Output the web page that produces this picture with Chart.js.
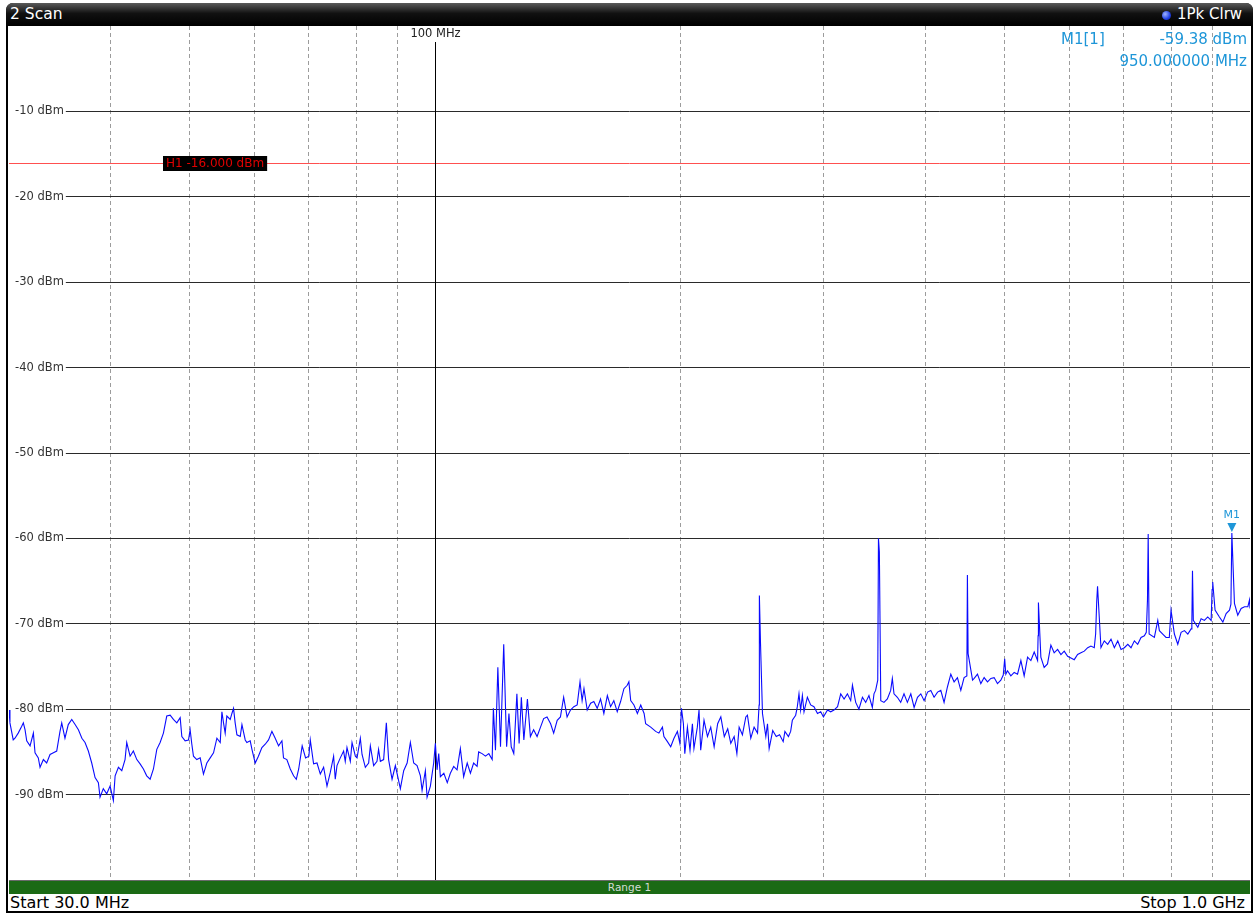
<!DOCTYPE html>
<html><head><meta charset="utf-8">
<script src="https://cdn.jsdelivr.net/npm/chart.js@4.4.1/dist/chart.umd.min.js"></script>
<style>
html,body{margin:0;padding:0;background:#fff;}
body{width:1256px;height:916px;overflow:hidden;position:relative;font-family:'DejaVu Sans',sans-serif;}
.abs{position:absolute;white-space:nowrap;}
#frame{left:6px;top:3px;width:1247px;height:910px;border:2px solid #000;box-sizing:border-box;border-radius:7px 7px 0 0;}
#header{left:6px;top:3px;width:1247px;height:23px;background:linear-gradient(#5a5a5a 0%,#111 45%,#000 100%);border-radius:7px 7px 0 0;}
#title{left:10px;top:5px;color:#fff;font-size:15.5px;line-height:19px;}
#trace{left:1177px;top:5px;color:#fff;font-size:15px;line-height:19px;}
#dot{left:1162px;top:11px;width:9px;height:9px;border-radius:50%;background:radial-gradient(circle at 35% 35%,#9fb4ff,#1f3fe6 60%,#0a1a90);}
#plot{left:9px;top:26px;}
.mk{color:#1e96d8;font-size:15px;line-height:18px;}
#green{left:9px;top:880px;width:1241px;height:14px;background:#1b6a15;border-top:1px solid #6a6a6a;box-sizing:border-box;color:#d4dcd4;font-size:10.5px;line-height:13px;text-align:center;}
.foot{top:894px;font-size:16px;line-height:18px;color:#000;}
</style></head>
<body>
<div id="frame" class="abs"></div>
<div id="header" class="abs"></div>
<div id="title" class="abs">2 Scan</div>
<div id="dot" class="abs"></div>
<div id="trace" class="abs">1Pk Clrw</div>
<canvas id="plot" class="abs" width="1241" height="854"></canvas>
<div class="abs mk" style="left:1061px;top:30px;">M1[1]</div>
<div class="abs mk" style="right:9px;top:30px;">-59.38 dBm</div>
<div class="abs mk" style="right:9px;top:52px;">950.000000 MHz</div>
<div id="green" class="abs">Range 1</div>
<div class="abs foot" style="left:10px;">Start 30.0 MHz</div>
<div class="abs foot" style="right:11px;">Stop 1.0 GHz</div>
<script>
// ---- data ----
const startMHz = 30, stopMHz = 1000;
const refLevelDbm = 0, bottomLevelDbm = -100;
const yTickDbm = [-10,-20,-30,-40,-50,-60,-70,-80,-90];
const xGridMHz = [40,50,60,70,80,90,200,300,400,500,600,700,800,900];
const refFreqMHz = 100;
const h1LevelDbm = -16;
const h1LabelFreqMHz = 46.4;
const markerFreqMHz = 950, markerLevelDbm = -59.38;

const freqMHz = [
30.0,30.08,30.36,30.51,30.79,31.10,31.24,31.39,31.54,31.84,32.14,32.29,32.59,32.75,33.06,33.37,33.69,34.01,34.33,34.65,
34.82,35.14,35.47,35.82,36.16,36.50,36.86,37.19,37.54,37.90,38.26,38.62,38.80,39.16,39.54,39.92,40.29,40.49,40.87,41.26,
41.64,41.84,42.24,42.63,43.05,43.45,43.86,44.27,44.70,45.12,45.55,45.98,46.41,46.85,47.30,47.74,48.20,48.66,48.89,49.35,
49.82,50.05,50.29,50.52,51.00,51.49,51.97,52.47,52.97,53.47,53.98,54.49,
54.75,55.00,55.26,55.52,56.05,56.32,56.58,56.84,57.12,57.66,57.94,58.48,58.75,59.31,59.60,60.15,60.70,61.30,61.88,62.46,
63.06,63.65,64.26,64.87,65.16,65.78,66.42,67.04,67.56,68.02,68.69,69.35,70.00,70.28,70.94,71.63,72.30,72.98,73.68,74.37,
75.07,75.42,75.79,76.50,77.22,77.58,77.96,78.70,79.08,79.83,80.21,80.96,81.35,82.11,82.88,83.28,84.06,84.86,85.24,85.67,
86.47,87.13,87.69,88.55,89.38,90.22,90.65,91.51,92.40,93.25,94.13,95.03,95.93,96.39,97.29,97.76,98.68,
99.60,100.08,100.56,101.03,101.5,102.5,103.5,104.4,105.4,106.4,107.4,108.4,109.5,110.5,111.5,112.6,113.1,114.2,115.3,116.4,
117.5,117.9,118.6,119.4,120.3,121.4,122.4,123.2,124.0,124.9,126.0,126.8,127.6,128.5,129.8,130.9,132.1,133.4,134.7,135.9,
137.2,138.6,139.8,141.2,142.5,143.8,145.2,146.6,148.0,149.4,150.6,151.5,152.3,153.7,155.2,156.6,158.1,159.6,161.1,162.7,
164.2,165.7,167.3,168.9,170.5,172.1,172.9,173.8,175.4,177.1,178.8,
180.5,181.3,183.9,186.5,188.2,190.1,190.9,192.8,194.6,196.4,198.3,199.7,200.6,201.7,202.5,204.0,205.5,206.9,207.8,209.8,
210.8,211.8,213.8,215.9,217.9,220.0,222.2,224.2,226.4,228.6,230.6,232.8,234.6,236.1,238.3,240.6,241.7,244.0,246.3,248.7,
249.8,250.0,250.8,252.2,254.6,255.8,257.0,259.6,262.2,264.7,267.4,268.7,271.4,273.1,274.4,277.0,278.3,279.6,280.9,282.3,
283.6,286.3,289.0,291.7,294.6,297.3,299.6,303.1,305.8,308.7,311.8,314.6,
317.6,320.6,323.6,325.2,328.2,331.2,334.5,337.6,340.7,344.0,345.6,347.2,349.3,350.0,350.9,352.3,355.5,358.9,362.3,364.0,
365.7,369.2,372.7,376.2,379.8,383.5,387.1,390.8,394.5,398.2,402.1,405.8,409.6,413.6,417.4,421.3,425.3,429.4,433.4,437.5,
441.7,445.8,449.3,450.0,450.9,456.6,458.7,463.0,467.4,471.8,476.3,480.8,485.3,489.9,494.6,498.0,500.0,501.6,504.0,508.8,
513.6,518.5,523.4,528.3,533.4,538.4,543.5,548.7,549.5,550.0,553.8,559.0,564.3,569.7,
575.0,580.6,586.1,591.6,597.3,602.9,608.6,614.4,620.2,626.1,632.2,638.0,644.0,646.5,648.5,650.0,656.3,662.5,668.9,675.2,
681.6,688.2,694.6,701.2,708.0,714.5,721.3,728.1,735.0,741.9,746.0,748.5,750.0,752.0,763.2,770.6,774.1,781.5,788.8,796.1,
800.0,807.6,815.4,823.1,830.9,838.9,846.7,848.5,850.0,852.0,862.9,871.0,879.1,887.4,896.0,898.5,900.0,906.0,917.2,926.2,
934.8,943.7,947.5,950.0,957.0,966.0,975.3,984.6,994.0,998.6,1000
];
const levelDbm = [
-80.1,-81.6,-83.6,-83.4,-82.8,-82.0,-81.6,-82.4,-83.7,-84.3,-82.8,-85.1,-85.7,-86.8,-85.9,-86.3,-85.3,-85.1,-84.9,-82.6,
-81.6,-83.4,-81.8,-81.2,-81.8,-82.4,-83.4,-83.9,-84.9,-86.3,-88.0,-88.6,-90.3,-89.3,-89.9,-89.0,-90.7,-87.8,-86.8,-87.2,
-85.9,-83.9,-85.5,-84.9,-85.9,-86.4,-87.0,-87.8,-88.2,-87.0,-84.7,-83.9,-82.8,-80.8,-80.7,-81.2,-81.6,-81.0,-83.2,-83.7,
-83.6,-82.4,-84.1,-85.5,-85.9,-85.7,-87.6,-86.3,-85.7,-85.1,-83.4,-83.9,
-80.3,-81.6,-82.8,-80.8,-81.2,-80.5,-79.9,-81.6,-83.0,-83.2,-81.8,-83.6,-83.9,-83.7,-84.7,-86.3,-85.5,-84.5,-84.1,-83.6,
-82.6,-83.4,-84.3,-83.7,-85.7,-85.9,-87.0,-87.8,-88.2,-87.0,-84.3,-85.7,-85.5,-83.6,-86.4,-86.3,-87.6,-86.8,-89.0,-87.4,
-85.5,-88.2,-86.6,-85.7,-84.9,-86.1,-84.5,-86.1,-83.9,-85.5,-85.7,-83.4,-85.3,-86.8,-86.3,-84.3,-86.6,-86.1,-84.7,-86.1,
-85.9,-81.6,-85.9,-88.2,-86.6,-88.4,-89.3,-87.2,-86.3,-83.9,-86.3,-86.6,-87.8,-89.5,-87.2,-90.3,-89.0,
-86.3,-84.0,-87.1,-85.2,-87.9,-87.5,-88.6,-87.5,-86.7,-87.1,-84.6,-87.9,-86.3,-87.5,-86.3,-86.7,-85.0,-85.2,-85.5,-85.2,
-85.9,-79.9,-84.8,-75.1,-84.4,-72.4,-84.4,-80.5,-84.4,-85.2,-78.2,-84.0,-78.6,-83.6,-78.8,-83.2,-82.4,-83.2,-82.1,-81.1,
-80.9,-81.7,-82.8,-81.3,-80.9,-78.6,-80.9,-80.1,-79.7,-79.5,-76.8,-79.0,-77.6,-80.1,-79.3,-79.1,-79.9,-78.8,-80.5,-78.4,
-79.7,-79.0,-80.3,-79.1,-77.6,-77.2,-76.8,-79.0,-79.5,-80.5,-79.5,
-80.5,-81.7,-82.1,-82.6,-82.8,-82.1,-83.2,-83.8,-84.4,-83.4,-82.6,-84.0,-79.9,-81.7,-85.2,-82.1,-84.8,-81.7,-84.6,-82.1,
-80.1,-84.8,-81.3,-83.2,-82.1,-84.4,-81.7,-80.9,-83.2,-82.3,-84.0,-83.2,-85.2,-82.1,-83.0,-80.9,-80.7,-83.4,-82.1,-82.8,
-79.5,-66.7,-72.3,-80.5,-83.2,-81.7,-84.6,-82.5,-83.2,-83.0,-83.8,-82.6,-83.2,-82.6,-81.3,-80.7,-79.7,-78.2,-80.1,-78.4,
-80.3,-78.6,-79.5,-79.7,-80.5,-80.3,-80.9,-80.1,-80.3,-80.1,-79.7,-78.2,
-78.8,-78.2,-79.0,-77.2,-79.2,-80.0,-78.6,-79.2,-78.4,-79.8,-78.2,-77.8,-76.6,-60.0,-61.6,-79.0,-79.2,-78.8,-77.8,-76.4,
-78.2,-78.6,-79.2,-78.2,-79.2,-78.2,-79.8,-78.6,-78.2,-79.0,-78.0,-77.8,-78.6,-78.0,-77.8,-79.2,-77.4,-75.9,-76.8,-76.3,
-77.8,-76.3,-76.1,-64.3,-73.5,-76.6,-76.4,-75.9,-77.0,-76.3,-76.8,-76.4,-76.3,-77.0,-76.6,-76.0,-74.1,-75.9,-75.5,-76.1,
-75.7,-75.9,-74.3,-76.1,-73.9,-74.3,-73.3,-74.3,-71.4,-67.5,-73.9,-75.1,-74.7,-72.5,
-73.4,-73.0,-73.6,-73.2,-73.8,-74.0,-74.2,-73.6,-73.4,-73.2,-72.8,-72.6,-72.8,-71.2,-67.4,-65.6,-72.8,-72.0,-72.4,-71.8,
-72.8,-72.0,-73.0,-72.8,-72.4,-72.8,-72.0,-72.4,-71.6,-71.4,-71.0,-67.2,-59.5,-71.2,-71.6,-69.6,-70.8,-71.2,-71.6,-71.6,
-68.4,-71.2,-72.4,-71.0,-70.8,-71.2,-70.6,-69.8,-63.8,-69.6,-70.4,-69.4,-69.6,-69.2,-69.6,-66.0,-65.1,-68.4,-69.2,-69.8,
-68.8,-68.4,-67.7,-59.38,-67.6,-69.0,-68.2,-68.0,-68.0,-67.2,-68.2
];

const tracePoints = freqMHz.map((f, i) => ({x: f, y: levelDbm[i]}));

const overlay = {
  id: 'overlay',
  beforeDatasetsDraw(chart) {
    const ctx = chart.ctx, xs = chart.scales.x, ys = chart.scales.y, ca = chart.chartArea;
    ctx.save();
    ctx.setLineDash([]);
    // H1 display line
    const yH1 = Math.round(ys.getPixelForValue(h1LevelDbm)) + 0.5;
    ctx.strokeStyle = '#ff5050'; ctx.lineWidth = 1;
    ctx.beginPath(); ctx.moveTo(ca.left, yH1); ctx.lineTo(ca.right, yH1); ctx.stroke();
    // 100 MHz frequency line
    const x100 = Math.round(xs.getPixelForValue(refFreqMHz)) + 0.5;
    ctx.strokeStyle = '#000';
    ctx.beginPath(); ctx.moveTo(x100, ca.top + 16); ctx.lineTo(x100, ca.bottom); ctx.stroke();
    ctx.font = '11.5px "DejaVu Sans"'; ctx.fillStyle = '#222';
    ctx.textAlign = 'center'; ctx.textBaseline = 'middle';
    ctx.fillText(refFreqMHz + ' MHz', x100, ca.top + 8);
    ctx.restore();
  },
  afterDatasetsDraw(chart) {
    const ctx = chart.ctx, xs = chart.scales.x, ys = chart.scales.y;
    ctx.save();
    // H1 label
    ctx.font = '12px "DejaVu Sans"';
    const txt = 'H1 ' + h1LevelDbm.toFixed(3) + ' dBm';
    const w = ctx.measureText(txt).width + 6;
    const lx = Math.round(xs.getPixelForValue(h1LabelFreqMHz));
    const ly = Math.round(ys.getPixelForValue(h1LevelDbm));
    ctx.fillStyle = '#000';
    ctx.fillRect(lx, ly - 7, w, 15);
    ctx.fillStyle = '#e00000'; ctx.textAlign = 'left'; ctx.textBaseline = 'middle';
    ctx.fillText(txt, lx + 3, ly + 1);
    // M1 marker
    const mx = xs.getPixelForValue(markerFreqMHz);
    const my = ys.getPixelForValue(markerLevelDbm);
    ctx.fillStyle = '#1e96d8';
    ctx.beginPath();
    ctx.moveTo(mx - 4.5, my - 10); ctx.lineTo(mx + 4.5, my - 10); ctx.lineTo(mx, my - 1); ctx.closePath(); ctx.fill();
    ctx.font = '11px "DejaVu Sans"'; ctx.textAlign = 'center'; ctx.textBaseline = 'middle';
    ctx.fillText('M1', mx, my - 18);
    ctx.restore();
  }
};

new Chart(document.getElementById('plot'), {
  type: 'line',
  data: {
    datasets: [
      {data: tracePoints, borderColor: '#0a0aff', borderWidth: 1.1, pointRadius: 0, tension: 0}
    ]
  },
  options: {
    responsive: false, animation: false, devicePixelRatio: 1,
    layout: {padding: 0, autoPadding: false},
    plugins: {legend: {display: false}, tooltip: {enabled: false}},
    events: [],
    scales: {
      x: {
        type: 'logarithmic', min: startMHz, max: stopMHz,
        afterBuildTicks: s => { s.ticks = xGridMHz.map(v => ({value: v})); },
        afterFit: s => { s.height = 0; s.paddingLeft = 0; s.paddingRight = 0; },
        ticks: {display: false},
        grid: {color: '#9c9c9c', lineWidth: 1, drawTicks: false},
        border: {display: false, dash: [4, 3]}
      },
      y: {
        type: 'linear', min: bottomLevelDbm, max: refLevelDbm,
        afterBuildTicks: s => { s.ticks = yTickDbm.map(v => ({value: v})); },
        afterFit: s => { s.width = 0; s.paddingTop = 0; s.paddingBottom = 0; },
        ticks: {
          mirror: true, padding: 6, color: '#333',
          font: {family: 'DejaVu Sans', size: 11.5},
          callback: v => v + ' dBm',
          showLabelBackdrop: true, backdropColor: '#fff',
          backdropPadding: {left: 7, right: 2, top: 1, bottom: 1}
        },
        grid: {color: '#2a2a2a', lineWidth: 1, drawTicks: false},
        border: {display: false}
      }
    }
  },
  plugins: [overlay]
});
</script>
</body></html>
